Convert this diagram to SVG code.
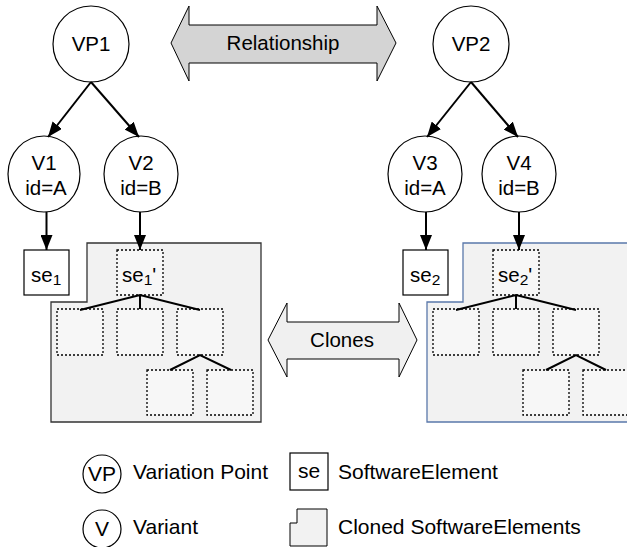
<svg xmlns="http://www.w3.org/2000/svg" width="627" height="547" viewBox="0 0 627 547">
<style>
text{font-family:"Liberation Sans",Arial,sans-serif;font-size:20.5px;fill:#000}
.c{text-anchor:middle}
.lg{font-size:21px}
.sub{font-size:15.5px}
.node{fill:#fff;stroke:#000;stroke-width:1.2}
.dash{fill:#f7f7f7;stroke:#000;stroke-width:1.3;stroke-dasharray:2,2}
.edge{stroke:#000;stroke-width:2;fill:none}
.tree{stroke:#000;stroke-width:2;fill:none}
</style>
<defs>
<marker id="ah" markerWidth="15" markerHeight="12" refX="15" refY="6" orient="auto" markerUnits="userSpaceOnUse">
<path d="M0,0 L15,6 L0,12 Z" fill="#000"/>
</marker>
</defs>
<rect width="627" height="547" fill="#fff"/>

<g id="relationship">
<polygon points="171,43 189,6 189,25 377,25 377,6 396,43 377,81 377,63 189,63 189,81" fill="#d4d4d4" stroke="#000" stroke-width="1"/>
<text class="c" x="283" y="50">Relationship</text>
</g>
<g id="clones">
<polygon points="268,340 287,303 287,322 399,322 399,303 417,340 399,377 399,359 287,359 287,377" fill="#f0f0f0" stroke="#000" stroke-width="1"/>
<text class="c" x="342" y="347">Clones</text>
</g>

<g id="cloned-left">
<path d="M87,243 H261 V422 H51 V302 H87 Z" fill="#f2f2f2" stroke="#333" stroke-width="1.3"/>
</g>
<g id="cloned-right">
<path d="M463,243 H640 V422 H427 V302 H463 Z" fill="#f2f2f2" stroke="#5a78aa" stroke-width="1.3"/>
</g>

<g id="VP1"><circle class="node" cx="91" cy="44" r="38"/><text class="c" x="91" y="51">VP1</text></g>
<g id="VP2"><circle class="node" cx="471" cy="44" r="38"/><text class="c" x="471" y="51">VP2</text></g>
<g id="V1"><ellipse class="node" cx="44" cy="174" rx="36" ry="38"/><text class="c" x="44" y="170">V1</text><text class="c" x="46" y="195">id=A</text></g>
<g id="V2"><ellipse class="node" cx="141" cy="174" rx="37" ry="38"/><text class="c" x="141" y="170">V2</text><text class="c" x="141" y="195">id=B</text></g>
<g id="V3"><ellipse class="node" cx="425" cy="174" rx="37" ry="38"/><text class="c" x="425" y="170">V3</text><text class="c" x="425" y="195">id=A</text></g>
<g id="V4"><ellipse class="node" cx="519" cy="174" rx="37" ry="38"/><text class="c" x="519" y="170">V4</text><text class="c" x="519" y="195">id=B</text></g>

<g id="se1"><rect class="node" x="24" y="250" width="45" height="45"/><text x="31" y="282">se<tspan class="sub" dy="3">1</tspan></text></g>
<g id="se2"><rect class="node" x="403" y="250" width="45" height="45"/><text x="410" y="282">se<tspan class="sub" dy="3">2</tspan></text></g>

<g id="se1p">
<rect class="dash" x="117" y="250" width="46" height="45"/>
<text x="122" y="282">se<tspan class="sub" dy="3">1</tspan><tspan dy="-3">'</tspan></text>
</g>
<g id="left-children">
<rect class="dash" x="57" y="309" width="46" height="46"/>
<rect class="dash" x="117" y="309" width="46" height="46"/>
<rect class="dash" x="177" y="309" width="46" height="46"/>
<rect class="dash" x="147" y="370" width="46" height="45"/>
<rect class="dash" x="207" y="370" width="46" height="45"/>
</g>
<g id="se2p">
<rect class="dash" x="493" y="250" width="46" height="45"/>
<text x="498" y="282">se<tspan class="sub" dy="3">2</tspan><tspan dy="-3">'</tspan></text>
</g>
<g id="right-children">
<rect class="dash" x="433" y="309" width="46" height="46"/>
<rect class="dash" x="493" y="309" width="46" height="46"/>
<rect class="dash" x="553" y="309" width="46" height="46"/>
<rect class="dash" x="523" y="370" width="46" height="45"/>
<rect class="dash" x="583" y="370" width="46" height="45"/>
</g>

<g id="connectors">
<line class="edge" x1="91" y1="82" x2="48" y2="137" marker-end="url(#ah)"/>
<line class="edge" x1="91" y1="82" x2="139" y2="137" marker-end="url(#ah)"/>
<line class="edge" x1="471" y1="82" x2="427" y2="137" marker-end="url(#ah)"/>
<line class="edge" x1="471" y1="82" x2="518" y2="137" marker-end="url(#ah)"/>
<line class="edge" x1="46.5" y1="212" x2="46.5" y2="250" marker-end="url(#ah)"/>
<line class="edge" x1="140" y1="212" x2="140" y2="250" marker-end="url(#ah)"/>
<line class="edge" x1="426" y1="212" x2="426" y2="250" marker-end="url(#ah)"/>
<line class="edge" x1="519" y1="212" x2="519" y2="250" marker-end="url(#ah)"/>
<path class="tree" d="M80,310 L140,295 L200,310 M140,295 V309 M170,370 L200,355 L231,370"/>
<path class="tree" d="M456,310 L516,295 L576,310 M516,295 V309 M546,370 L576,355 L606,370"/>
</g>

<g id="legend">
<circle class="node" cx="102" cy="474" r="19"/><text class="c lg" x="102" y="481">VP</text>
<text class="lg" x="133" y="479">Variation Point</text>
<circle class="node" cx="102" cy="529" r="19"/><text class="c lg" x="102" y="536">V</text>
<text class="lg" x="133" y="534">Variant</text>
<rect class="node" x="290" y="453" width="38" height="37"/><text class="c lg" x="309" y="478">se</text>
<text class="lg" x="338" y="479">SoftwareElement</text>
<path d="M297,509 H327 V546 H290 V523 H297 Z" fill="#f2f2f2" stroke="#000" stroke-width="1"/>
<text class="lg" x="338" y="534">Cloned SoftwareElements</text>
</g>
</svg>
